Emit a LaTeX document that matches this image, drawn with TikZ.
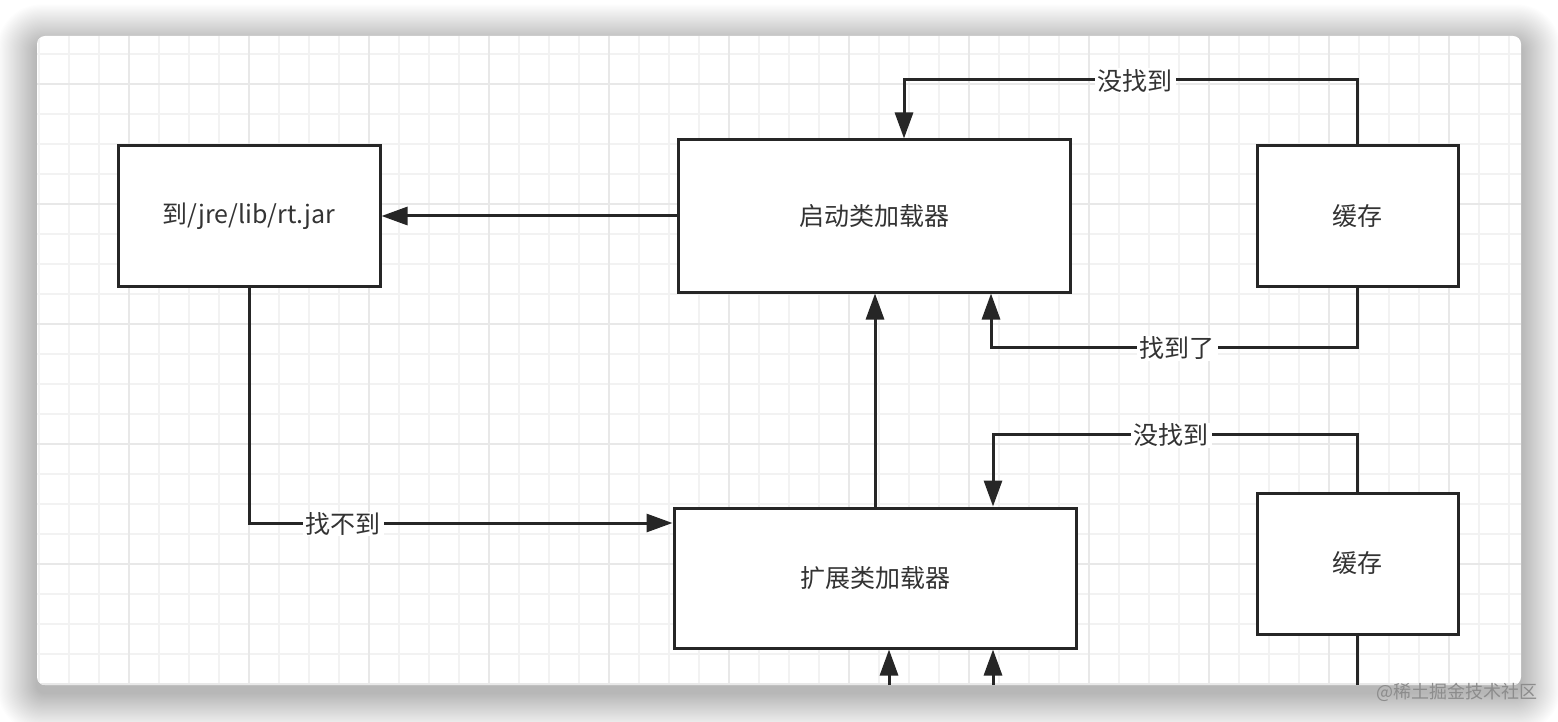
\documentclass[tikz,border=0pt]{standalone}
\usepackage{fontspec}
\setmainfont{Noto Sans CJK SC}
\usetikzlibrary{arrows.meta}
\definecolor{ln}{HTML}{262626}
\definecolor{tx}{HTML}{333333}
\definecolor{gminor}{HTML}{F2F2F2}
\definecolor{gmajor}{HTML}{E8E8E8}
\begin{document}
\begin{tikzpicture}[x=1pt,y=-1pt,
  box/.style={draw=ln, line width=3pt, fill=white, text=tx, font=\fontsize{25}{30}\selectfont, inner sep=0pt},
  arr/.style={draw=ln, line width=3pt, -{Triangle[length=26pt,width=18pt]}},
  plain/.style={draw=ln, line width=3pt},
  lbl/.style={fill=white, text=tx, font=\fontsize{25}{30}\selectfont, inner xsep=3pt, inner ysep=1pt}]
\useasboundingbox (0,0) rectangle (1558,722);
\fill[white] (0,0) rectangle (1558,722);
% shadow
\foreach \i in {1,...,36}{
  \fill[black,opacity=0.0075,rounded corners={8pt+\i*1pt}] ({37-1.1*\i},{36-1.1*\i+8}) rectangle ({1521+1.1*\i},{685+1.1*\i+8});
}
% frame
\fill[white,rounded corners=8pt] (37,36) rectangle (1521,685);
\begin{scope}
  \clip[rounded corners=8pt] (37,36) rectangle (1521,685);
  \foreach \x in {39,69,...,1509} \draw[gminor,line width=1.5pt] (\x,36) -- (\x,685);
  \foreach \y in {54,84,...,684} \draw[gminor,line width=1.5pt] (37,\y) -- (1521,\y);
  \foreach \x in {129,249,...,1449} \draw[gmajor,line width=1.5pt] (\x,36) -- (\x,685);
  \foreach \y in {84,204,...,684} \draw[gmajor,line width=1.5pt] (37,\y) -- (1521,\y);
\end{scope}
% nodes
\node[box, minimum width=262pt, minimum height=140pt] (rt) at (249,216) {到/jre/lib/rt.jar};
\node[box, minimum width=392pt, minimum height=152pt] (boot) at (874,216) {启动类加载器};
\node[box, minimum width=201pt, minimum height=140pt] (c1) at (1357.5,216) {缓存};
\node[box, minimum width=402pt, minimum height=140pt] (ext) at (875,578) {扩展类加载器};
\node[box, minimum width=201pt, minimum height=141pt] (c2) at (1357.5,563.5) {缓存};
% helper coordinates
\coordinate (k1) at (904,80);
\coordinate (k2) at (991,347);
\coordinate (k3) at (249,523);
\coordinate (k4) at (993,434);
\coordinate (b1) at (889,685);
\coordinate (b2) at (993,685);
\coordinate (b3) at (1357.5,685);
% connectors
\draw[arr] (boot.west) -- (rt.east);
\draw[arr] (c1.north) |- (k1) -- (k1 |- boot.north);
\draw[arr] (c1.south) |- (k2) -- (k2 |- boot.south);
\draw[arr] (rt.south) -- (k3) -- (k3 -| ext.west);
\draw[arr] (ext.north) -- (ext.north |- boot.south);
\draw[arr] (c2.north) |- (k4) -- (k4 |- ext.north);
\draw[arr] (b1) -- (b1 |- ext.south);
\draw[arr] (b2) -- (b2 |- ext.south);
\draw[plain] (c2.south) -- (b3);
% labels
\node[lbl] (l1) at (1135,81) {没找到};
\node[lbl] (l2) at (1177,348) {找到了};
\node[lbl] (l3) at (343,524) {找不到};
\node[lbl] (l4) at (1171,435) {没找到};
% watermark
\node[anchor=east, text=black!45, font=\fontsize{18}{20}\selectfont, inner sep=0pt] (wm) at (1538,692) {@稀土掘金技术社区};
\end{tikzpicture}
\end{document}
